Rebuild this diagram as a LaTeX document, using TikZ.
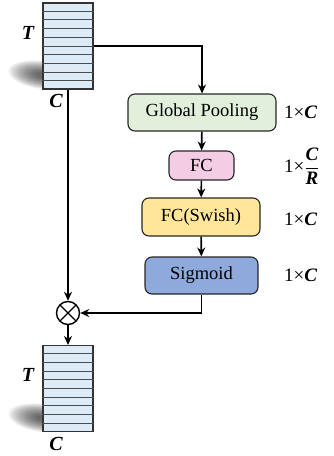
\documentclass[tikz,border=0pt]{standalone}
\usepackage{fontspec}
\setmainfont{Liberation Serif}
\usetikzlibrary{arrows.meta,calc}
\definecolor{stackfill}{HTML}{DDEBF7}
\definecolor{gpfill}{HTML}{E2EFDA}
\definecolor{fcfill}{HTML}{F4CCE4}
\definecolor{swfill}{HTML}{FFE699}
\definecolor{sgfill}{HTML}{8EA9DB}
\tikzset{
  blockbox/.style={draw=black!85, line width=1.1pt, rounded corners=7pt, minimum height=37pt, font=\fontsize{18.5}{20}\selectfont, inner sep=2pt},
  conn/.style={line width=1.6pt, -{Stealth[length=9pt,width=8pt]}},
  stackbox/.style={draw=black!80, line width=1.1pt, fill=stackfill, minimum width=50pt, minimum height=86pt, inner sep=0pt},
  dimlabel/.style={font=\fontsize{19}{21}\selectfont, anchor=west, inner sep=0pt},
  stacklabel/.style={font=\fontsize{20}{21}\selectfont\bfseries\itshape}
}
\newcommand{\softshadow}[2]{%
  \begin{scope}
  \clip (#1-50,#2-30) rectangle (#1+4,#2+30);
  \foreach \k in {0,...,19}{
    \fill[black, opacity=0.045, rotate around={-8:(#1,#2)}] (#1,#2) ellipse ({34-1.5*\k} and {14-0.6*\k});
  }
  \end{scope}}
\newcommand{\stacklines}[1]{%
  \foreach \k in {1,...,9}{
    \draw[black!70, line width=0.9pt] ($(#1.north west)!\k/10!(#1.south west)$) -- ($(#1.north east)!\k/10!(#1.south east)$);
  }}
\newcommand{\bC}{\textbf{\textit{C}}}
\newcommand{\bR}{\textbf{\textit{R}}}
\begin{document}
\begin{tikzpicture}[x=1pt,y=-1pt]
\useasboundingbox (0,0) rectangle (333,456);
% shadows
\softshadow{42}{75}
\softshadow{42}{418}
% stacks
\node[stackbox] (s1) at (68,46) {};
\stacklines{s1}
\node[stackbox] (s2) at (68,388.5) {};
\stacklines{s2}
\node[stacklabel] (t1) at (28,33) {T};
\node[stacklabel] (c1) at (56,101) {C};
\node[stacklabel] (t2) at (28,375) {T};
\node[stacklabel] (c2) at (56,444) {C};
% blocks
\node[blockbox, fill=gpfill, minimum width=148pt] (gp) at (202,112.5) {Global Pooling};
\node[blockbox, fill=fcfill, minimum width=65pt, minimum height=29pt] (fc) at (201.5,165.5) {FC};
\node[blockbox, fill=swfill, minimum width=118pt, minimum height=38pt] (sw) at (201,217) {FC(Swish)};
\node[blockbox, fill=sgfill, minimum width=113pt, minimum height=37pt] (sg) at (201.5,275.5) {Sigmoid};
% dim labels
\node[dimlabel] (d1) at (284,112) {1×\bC};
\node[dimlabel] (d2) at (284,166) {1×$\displaystyle\frac{\mbox{\bC}}{\mbox{\bR}}$};
\node[dimlabel] (d3) at (284,219) {1×\bC};
\node[dimlabel] (d4) at (284,275) {1×\bC};
% multiply
\node[draw, line width=1.4pt, circle, minimum size=23pt, inner sep=0pt] (mul) at (68,313) {};
\draw[line width=1.4pt] ($(mul.center)+(-8,-8)$) -- ($(mul.center)+(8,8)$);
\draw[line width=1.4pt] ($(mul.center)+(-8,8)$) -- ($(mul.center)+(8,-8)$);
% connectors
\draw[conn] (s1.east) -| (gp.north);
\draw[conn] (gp) -- (fc);
\draw[conn] (fc) -- (sw);
\draw[conn] (sw) -- (sg);
\draw[conn] (sg.south) |- (mul.east);
\draw[conn] (s1.south) -- (mul.north);
\draw[conn] (mul.south) -- (s2.north);
\end{tikzpicture}
\end{document}
